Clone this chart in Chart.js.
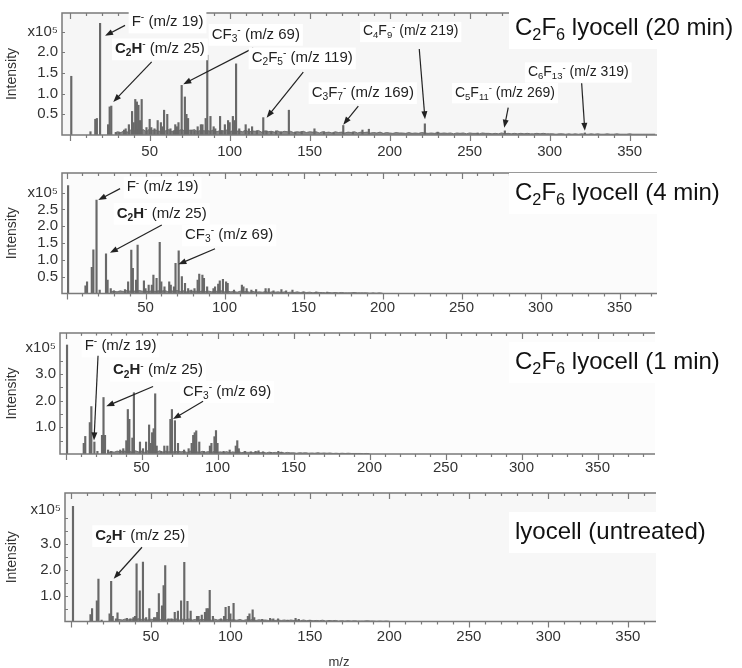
<!DOCTYPE html>
<html>
<head>
<meta charset="utf-8">
<script src="https://cdn.jsdelivr.net/npm/chart.js@4.4.1/dist/chart.umd.min.js"></script>
<style>
  body { margin: 0; background: #fff; width: 742px; height: 668px; position: relative; overflow: hidden; }
  canvas { position: absolute; left: 0; }
</style>
</head>
<body>
<canvas id="c20" width="742" height="162" style="top:0px"></canvas>
<canvas id="c4" width="742" height="160" style="top:160px"></canvas>
<canvas id="c1" width="742" height="160" style="top:320px"></canvas>
<canvas id="c0" width="742" height="188" style="top:480px"></canvas>
<script>
// m/z tick labels shared by all four spectra
const xTickVals = [50, 100, 150, 200, 250, 300, 350]

// C2F6 lyocell (20 min) - intensities in units of 1e5
const mz20 = [1,13,16,17,19,24,25,26,29,31,34,35,37,39,40,41,42,43,44,45,48,50,51,53,55,57,58,59,61,63,65,66,67,68,70,72,73,74,76,78,80,82,83,85,86,88,90,91,94,95,97,99,100,102,103,104,106,110,112,114,117,121,123,126,129,132,137,141,145,153,159,165,171,177,183,187,222,230,255,272,322]
const int20 = [1.42,0.08,0.38,0.40,2.70,0.25,0.68,0.70,0.06,0.06,0.12,0.15,0.25,0.57,0.30,0.86,0.80,0.72,0.35,0.86,0.18,0.38,0.18,0.15,0.35,0.30,0.20,0.60,0.50,0.15,0.10,0.25,0.20,0.30,1.20,0.92,0.50,0.40,0.12,0.10,0.20,0.25,0.25,0.40,1.93,0.45,0.20,0.15,0.45,0.10,0.25,0.35,0.30,0.45,0.35,1.72,0.15,0.25,0.15,0.20,0.10,0.42,0.10,0.08,0.10,0.08,0.60,0.07,0.08,0.15,0.08,0.06,0.23,0.07,0.12,0.14,0.27,0.07,0.05,0.10,0.05]
// baseline grass, every 2 m/z starting at m/z 28
const grass20 = [0.05,0.08,0.06,0.10,0.07,0.12,0.09,0.14,0.10,0.13,0.08,0.15,0.11,0.12,0.09,0.14,0.10,0.13,0.08,0.12,0.10,0.14,0.09,0.12,0.11,0.13,0.08,0.12,0.10,0.11,0.09,0.13,0.08,0.11,0.10,0.12,0.07,0.11,0.09,0.10,0.08,0.12,0.07,0.10,0.09,0.11,0.07,0.10,0.08,0.09,0.07,0.10,0.06,0.09,0.08,0.09,
  0.06,0.08,0.07,0.09,0.06,0.08,0.07,0.08,0.05,0.08,0.06,0.07,0.05,0.08,0.06,0.07,0.05,0.07,0.06,0.08,0.05,0.07,0.06,0.07,0.05,0.06,0.05,0.07,0.04,0.06,0.05,
  0.04,0.06,0.05,0.05,0.04,0.06,0.04,0.05,0.04,0.06,0.05,0.04,0.05,0.04,0.06,0.04,0.05,0.04,0.05,0.03,0.05,0.04,0.05,0.03,0.05,0.04,0.04,0.03,0.05,0.04,0.04,0.03,0.04,0.03,0.05,0.03,0.04,0.03,0.04,0.03,0.04,0.03,0.04,0.03,0.03,0.04,0.03,0.04,0.03,0.03,
  0.03,0.02,0.03,0.03,0.02,0.03,0.02,0.03,0.02,0.03,0.02,0.02,0.03,0.02,0.03,0.02,0.02,0.03,0.02,0.02,0.03,0.02,0.02,0.02,0.03,0.02,0.02,0.02,0.02,0.02,0.02,0.02,0.02]

// C2F6 lyocell (4 min)
const mz4 = [1,12,13,16,17,19,21,25,26,28,30,37,39,41,42,44,45,49,50,52,54,55,57,59,60,62,65,66,68,69,71,73,75,77,79,81,83,84,86,87,89,93,94,96,97,99,101,102,106,111,112,114,117,120,126,128,131,136,139,143,150,158,165]
const int4 = [3.21,0.23,0.35,0.78,1.30,2.78,0.10,1.18,0.40,0.15,0.08,0.12,0.35,1.29,0.75,0.40,1.44,0.38,0.15,0.25,0.25,0.55,0.45,1.52,0.35,0.20,0.35,0.25,0.20,0.90,1.27,0.50,0.30,0.15,0.10,0.15,0.40,0.58,0.55,0.45,0.20,0.15,0.20,0.28,0.38,0.42,0.35,0.30,0.10,0.25,0.20,0.15,0.10,0.12,0.15,0.15,0.08,0.12,0.08,0.10,0.05,0.04,0.04]
const grass4 = [0.05,0.07,0.05,0.08,0.06,0.09,0.07,0.08,0.06,0.09,0.07,0.08,0.05,0.09,0.06,0.08,0.07,0.09,0.06,0.08,0.07,0.09,0.06,0.08,0.05,0.08,0.06,0.07,0.05,0.08,0.06,0.07,0.05,0.07,0.06,0.08,0.05,0.07,0.05,0.06,0.04,0.07,0.05,0.06,0.04,0.06,0.04,0.05,0.04,0.06,0.03,0.05,0.04,0.05,0.03,0.05,0.03,0.04,0.03,0.05,0.03,0.04,0.03,0.04,0.02,0.04,0.03,0.03,0.02,0.03,0.02,0.03,0.02,0.03,0.02,0.02,0.02,0.03,0.02,0.02,0.02,0.02,0.01,0.02,0.01,0.02,0.01]

// C2F6 lyocell (1 min)
const mz1 = [1,12,13,16,17,19,21,24,25,26,28,30,36,38,40,41,42,44,45,49,51,53,55,56,57,58,59,60,63,65,67,69,70,72,74,78,81,83,84,85,86,88,91,95,96,98,99,100,104,108,112,113,114,118,122,125,127,130,135,140,142,148]
const int1 = [4.09,0.40,0.66,1.18,1.78,0.45,0.10,0.70,2.12,0.70,0.15,0.10,0.15,0.20,0.50,1.67,1.30,0.60,2.30,0.45,0.20,0.45,1.09,0.40,0.80,0.95,2.26,0.30,0.10,0.30,0.30,1.30,1.67,1.25,0.40,0.15,0.20,0.40,0.70,0.80,0.87,0.45,0.10,0.30,0.40,0.65,0.88,0.40,0.10,0.15,0.30,0.50,0.20,0.10,0.08,0.10,0.12,0.08,0.06,0.10,0.06,0.04]
const grass1 = [0.06,0.09,0.07,0.11,0.08,0.12,0.09,0.10,0.07,0.12,0.08,0.11,0.07,0.12,0.09,0.10,0.08,0.12,0.07,0.11,0.08,0.10,0.07,0.11,0.08,0.10,0.06,0.11,0.07,0.09,0.06,0.10,0.07,0.09,0.06,0.10,0.07,0.08,0.06,0.09,0.05,0.08,0.06,0.09,0.05,0.08,0.06,0.07,0.05,0.08,0.05,0.07,0.04,0.07,0.05,0.06,0.04,0.07,0.04,0.06,0.04,0.05,0.03,0.05,0.04,0.05,0.03,0.04,0.03,0.05,0.03,0.04,0.03,0.04,0.02,0.03,0.02,0.03,0.02,0.03,0.02,0.02,0.02,0.02,0.01,0.02,0.01]

// lyocell (untreated)
const mz0 = [1,12,13,16,17,19,24,25,26,28,29,35,37,39,40,41,43,45,47,49,52,53,54,55,57,58,59,61,63,65,67,69,71,73,75,79,80,82,84,85,86,87,89,94,96,97,99,100,102,111,112,114,115,120,125,127,130,136,141,143,150]
const int0 = [4.44,0.27,0.50,0.80,1.63,0.05,0.30,1.55,0.20,0.10,0.33,0.12,0.10,0.15,0.20,2.22,1.18,2.29,0.15,0.50,0.15,0.15,0.35,1.08,0.60,1.38,2.15,0.10,0.10,0.35,0.40,0.80,2.28,0.78,0.40,0.20,0.20,0.25,0.35,0.50,0.50,1.20,0.20,0.10,0.20,0.55,0.58,0.30,0.70,0.20,0.30,0.45,0.15,0.08,0.12,0.10,0.10,0.05,0.12,0.08,0.04]
const grass0 = [0.05,0.08,0.06,0.10,0.07,0.09,0.06,0.11,0.08,0.10,0.06,0.09,0.07,0.11,0.08,0.10,0.06,0.09,0.07,0.10,0.06,0.09,0.07,0.10,0.06,0.08,0.05,0.09,0.06,0.08,0.05,0.09,0.06,0.08,0.05,0.08,0.06,0.07,0.05,0.08,0.04,0.07,0.05,0.08,0.04,0.07,0.05,0.06,0.04,0.07,0.04,0.06,0.04,0.06,0.03,0.06,0.04,0.05,0.03,0.06,0.03,0.05,0.03,0.04,0.03,0.05,0.02,0.04,0.03,0.04,0.02,0.03,0.02,0.03,0.02,0.03,0.02,0.02,0.02,0.03,0.02,0.02,0.01,0.02,0.01,0.02,0.01]

const fontFam = '"Liberation Sans", Arial, Helvetica, sans-serif'
const ink = '#222'

function segFont(st, size) {
    const small = st.includes('s') || st.includes('p')
    return (st.includes('b') ? 'bold ' : '') + (small ? size * 0.68 : size) + 'px ' + fontFam
}

function richWidth(ctx, segs, size) {
    let w = 0
    segs.forEach(([t, st]) => { ctx.font = segFont(st, size); w += ctx.measureText(t).width })
    return w
}

function drawRich(ctx, segs, x, y, size) {
    let cx = x
    segs.forEach(([t, st]) => {
        ctx.font = segFont(st, size)
        const dy = st.includes('s') ? size * 0.3 : st.includes('p') ? -size * 0.3 : 0
        ctx.fillText(t, cx, y + dy)
        cx += ctx.measureText(t).width
    })
}

function arrow(ctx, x1, y1, x2, y2) {
    const a = Math.atan2(y2 - y1, x2 - x1), L = 8, W = 3
    ctx.beginPath()
    ctx.moveTo(x1, y1)
    ctx.lineTo(x2 - L * 0.7 * Math.cos(a), y2 - L * 0.7 * Math.sin(a))
    ctx.stroke()
    ctx.beginPath()
    ctx.moveTo(x2, y2)
    ctx.lineTo(x2 - L * Math.cos(a) + W * Math.sin(a), y2 - L * Math.sin(a) - W * Math.cos(a))
    ctx.lineTo(x2 - L * Math.cos(a) - W * Math.sin(a), y2 - L * Math.sin(a) + W * Math.cos(a))
    ctx.closePath()
    ctx.fill()
}

// ion labels
const F = [['F', ''], ['-', 'p'], [' (m/z 19)', '']]
const C2H = [['C', 'b'], ['2', 'bs'], ['H', 'b'], ['-', 'p'], [' (m/z 25)', '']]
const CF3 = [['CF', ''], ['3', 's'], ['-', 'p'], [' (m/z 69)', '']]

function makeDecor(p) {
    return {
        id: 'decor',
        beforeDatasetsDraw(chart) {
            const { ctx, chartArea: a } = chart
            ctx.save()
            ctx.fillStyle = p.bg
            ctx.fillRect(a.left, a.top, a.right - a.left, a.bottom - a.top)
            ctx.restore()
        },
        afterDatasetsDraw(chart) {
            const { ctx, chartArea: a } = chart
            const xs = chart.scales.x, ys = chart.scales.y
            ctx.save()
            // frame
            ctx.strokeStyle = '#7a7a7a'
            ctx.lineWidth = 1.5
            ctx.beginPath()
            ctx.moveTo(a.right, a.top); ctx.lineTo(a.left, a.top)
            ctx.lineTo(a.left, a.bottom); ctx.lineTo(a.right, a.bottom)
            ctx.stroke()
            // tick marks
            ctx.lineWidth = 1.2
            ctx.beginPath()
            for (let v = 0; v <= xs.max; v += 10) {
                const px = Math.round(xs.getPixelForValue(v)) + 0.5
                const len = v % 50 === 0 ? 6 : 3
                ctx.moveTo(px, a.top); ctx.lineTo(px, a.top + len)
                ctx.moveTo(px, a.bottom); ctx.lineTo(px, a.bottom + len)
            }
            for (let v = 0.5; v <= p.yMarkTop + 1e-6; v += 0.5) {
                const py = Math.round(ys.getPixelForValue(v)) + 0.5
                ctx.moveTo(a.left, py); ctx.lineTo(a.left + 3, py)
            }
            ctx.stroke()

            // annotations
            ctx.textBaseline = 'middle'
            ctx.textAlign = 'left'
            ctx.strokeStyle = ink
            ctx.fillStyle = ink
            ctx.lineWidth = 1.2
            p.notes.forEach(n => {
                const tx = xs.getPixelForValue(n.at[0]), ty = ys.getPixelForValue(n.at[1])
                const w = richWidth(ctx, n.segs, n.size)
                ctx.fillStyle = '#fff'
                ctx.fillRect(tx - 3, ty - n.size * 0.7, w + 6, n.size * 1.45)
                ctx.fillStyle = ink
                drawRich(ctx, n.segs, tx, ty, n.size)
                arrow(ctx, xs.getPixelForValue(n.tail[0]), ys.getPixelForValue(n.tail[1]),
                    xs.getPixelForValue(n.tip[0]), ys.getPixelForValue(n.tip[1]))
            })

            // panel title
            const tw = richWidth(ctx, p.title, 24)
            ctx.fillStyle = '#fff'
            ctx.fillRect(p.titleX - 6, p.titleY - 20, tw + 12, 41)
            ctx.fillStyle = '#111'
            drawRich(ctx, p.title, p.titleX, p.titleY, 24)

            if (p.xTitle) {
                ctx.fillStyle = '#333'
                ctx.textAlign = 'center'
                ctx.font = '13px ' + fontFam
                ctx.fillText(p.xTitle, p.xTitleX, p.xTitleY)
            }
            ctx.restore()
        }
    }
}

function buildChart(id, p) {
    const peaks = p.mz.map((m, i) => ({ x: m, y: p.inten[i] }))
    const grass = p.grass.map((h, i) => ({ x: 28 + i * 2, y: h }))
    new Chart(document.getElementById(id), {
        type: 'bar',
        data: {
            datasets: [
                { type: 'line', data: grass, borderColor: '#5e5e5e', borderWidth: 0.8, backgroundColor: 'rgba(85,85,85,0.7)',
                  fill: 'origin', pointRadius: 0, tension: 0, order: 2 },
                { type: 'bar', data: peaks, backgroundColor: '#686868', barThickness: 1.5, order: 1 }
            ]
        },
        options: {
            responsive: false,
            animation: false,
            devicePixelRatio: 1,
            layout: { padding: { top: p.padTop, right: p.padRight, left: 0, bottom: 0 } },
            plugins: { legend: { display: false }, tooltip: { enabled: false } },
            scales: {
                x: {
                    type: 'linear', min: p.xMin, max: p.xMax, offset: false,
                    afterFit: s => { s.height = p.xH },
                    afterBuildTicks: s => { s.ticks = xTickVals.map(v => ({ value: v })) },
                    grid: { display: false, drawTicks: false, offset: false },
                    border: { display: false },
                    ticks: { autoSkip: false, maxRotation: 0, padding: p.xPad, color: '#333',
                             font: { size: 15, family: fontFam }, callback: v => String(v) }
                },
                y: {
                    min: 0, max: p.yMax,
                    afterFit: s => { s.width = p.yW },
                    afterBuildTicks: s => { s.ticks = p.yTicks.map(v => ({ value: v })) },
                    grid: { display: false, drawTicks: false },
                    border: { display: false },
                    ticks: { padding: 4, color: '#333', font: { size: 15, family: fontFam },
                             callback: v => p.yLabels[p.yTicks.indexOf(v)] },
                    title: { display: true, text: 'Intensity', color: '#333',
                             font: { size: 14, family: fontFam }, padding: { top: 4, bottom: 0 } }
                }
            }
        },
        plugins: [makeDecor(p)]
    })
}

buildChart('c20', {
    mz: mz20, inten: int20, grass: grass20, bg: '#f6f6f6',
    xMin: -4.8, xMax: 367.1, yMax: 2.95, padTop: 5, padRight: 85, yW: 62, xH: 27, xPad: 8,
    yMarkTop: 2.5, yTicks: [0.5, 1, 1.5, 2, 2.5], yLabels: ['0.5', '1.0', '1.5', '2.0', 'x10⁵'],
    title: [['C', ''], ['2', 's'], ['F', ''], ['6', 's'], [' lyocell (20 min)', '']], titleX: 515, titleY: 28,
    notes: [
        { segs: F, size: 15, at: [38.75, 2.73], tail: [34.6, 2.65], tip: [22.1, 2.40] },
        { segs: C2H, size: 15, at: [28.3, 2.08], tail: [51.25, 1.77], tip: [27.25, 0.80] },
        { segs: CF3, size: 15, at: [88.75, 2.43], tail: [114.75, 2.10], tip: [71, 1.23] },
        { segs: [['C', ''], ['2', 's'], ['F', ''], ['5', 's'], ['-', 'p'], [' (m/z 119)', '']], size: 15, at: [113.75, 1.86], tail: [146, 1.52], tip: [123.1, 0.42] },
        { segs: [['C', ''], ['3', 's'], ['F', ''], ['7', 's'], ['-', 'p'], [' (m/z 169)', '']], size: 15, at: [151.25, 1.02], tail: [180.4, 0.70], tip: [171, 0.25] },
        { segs: [['C', ''], ['4', 's'], ['F', ''], ['9', 's'], ['-', 'p'], [' (m/z 219)', '']], size: 14, at: [183.3, 2.5], tail: [218.5, 2.08], tip: [222.1, 0.38] },
        { segs: [['C', ''], ['5', 's'], ['F', ''], ['11', 's'], ['-', 'p'], [' (m/z 269)', '']], size: 14, at: [240.8, 1.02], tail: [274.1, 0.66], tip: [271.6, 0.175] },
        { segs: [['C', ''], ['6', 's'], ['F', ''], ['13', 's'], ['-', 'p'], [' (m/z 319)', '']], size: 14, at: [286.4, 1.52], tail: [320, 1.25], tip: [322, 0.1] }
    ]
})

buildChart('c4', {
    mz: mz4, inten: int4, grass: grass4, bg: '#fbfbfb',
    xMin: -2.85, xMax: 373.7, yMax: 3.585, padTop: 3, padRight: 85, yW: 62, xH: 26.5, xPad: 5.5,
    yMarkTop: 3.0, yTicks: [0.5, 1, 1.5, 2, 2.5, 3], yLabels: ['0.5', '1.0', '1.5', '2.0', '2.5', 'x10⁵'],
    title: [['C', ''], ['2', 's'], ['F', ''], ['6', 's'], [' lyocell (4 min)', '']], titleX: 515, titleY: 33,
    notes: [
        { segs: F, size: 15, at: [38.1, 3.16], tail: [33.9, 3.12], tip: [20.1, 2.78] },
        { segs: C2H, size: 15, at: [31.8, 2.38], tail: [60.3, 2.04], tip: [27.5, 1.21] },
        { segs: CF3, size: 15, at: [75, 1.74], tail: [94, 1.33], tip: [70.8, 0.87] }
    ]
})

buildChart('c1', {
    mz: mz1, inten: int1, grass: grass1, bg: '#fcfcfc',
    xMin: -3.62, xMax: 387.8, yMax: 4.54, padTop: 10, padRight: 87, yW: 60, xH: 26, xPad: 5,
    yMarkTop: 3.5, yTicks: [1, 2, 3, 4], yLabels: ['1.0', '2.0', '3.0', 'x10⁵'],
    title: [['C', ''], ['2', 's'], ['F', ''], ['6', 's'], [' lyocell (1 min)', '']], titleX: 515, titleY: 42,
    notes: [
        { segs: F, size: 15, at: [12.6, 4.05], tail: [21.4, 3.69], tip: [18.75, 0.51] },
        { segs: C2H, size: 15, at: [31.25, 3.14], tail: [57.6, 2.53], tip: [26.8, 1.79] },
        { segs: CF3, size: 15, at: [77.3, 2.34], tail: [90.5, 1.98], tip: [70.7, 1.31] }
    ]
})

buildChart('c0', {
    mz: mz0, inten: int0, grass: grass0, bg: '#f7f7f7',
    xMin: -4.03, xMax: 367.7, yMax: 4.95, padTop: 11, padRight: 86, yW: 65, xH: 46.5, xPad: 6.5,
    yMarkTop: 4.0, yTicks: [1, 2, 3, 4.3], yLabels: ['1.0', '2.0', '3.0', 'x10⁵'],
    title: [['lyocell (untreated)', '']], titleX: 515, titleY: 52,
    xTitle: 'm/z', xTitleX: 339, xTitleY: 182,
    notes: [
        { segs: C2H, size: 15, at: [15, 3.3], tail: [44.4, 2.86], tip: [26.6, 1.65] }
    ]
})
</script>
</body>
</html>
